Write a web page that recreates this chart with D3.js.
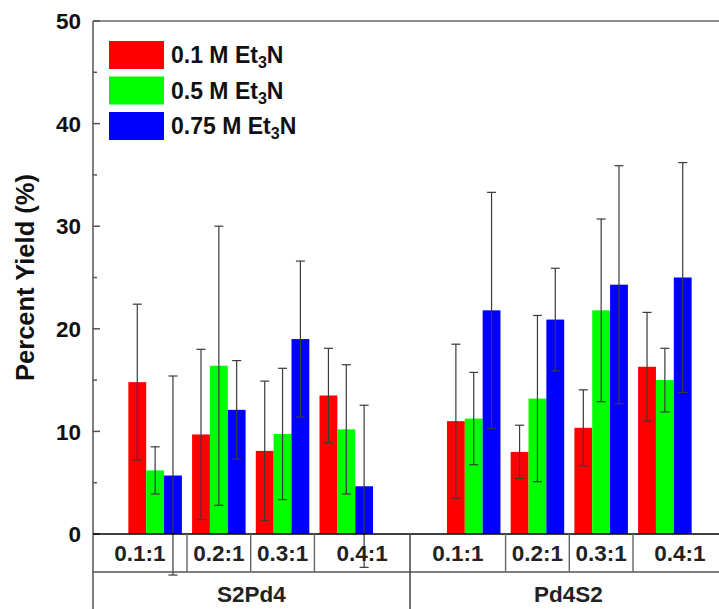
<!DOCTYPE html>
<html>
<head>
<meta charset="utf-8">
<script src="https://cdn.jsdelivr.net/npm/d3@7"></script>
<style>
  html, body { margin: 0; padding: 0; background: #fff; }
  svg { display: block; }
  text { font-family: "Liberation Sans", Arial, sans-serif; }
</style>
</head>
<body>
<svg id="chart" width="719" height="609"></svg>
<script>
// ---- data ----
const groups = ["S2Pd4", "Pd4S2"];
const ratios = ["0.1:1", "0.2:1", "0.3:1", "0.4:1"];
const seriesNames = ["0.1 M Et", "0.5 M Et", "0.75 M Et"];
const seriesColors = ["#ff0000", "#00ff00", "#0000ff"];
// order: S2Pd4 0.1..0.4, Pd4S2 0.1..0.4
const yield01 = [14.8, 9.7, 8.1, 13.5, 11.0, 8.0, 10.35, 16.3];
const yield05 = [6.2, 16.4, 9.75, 10.2, 11.25, 13.2, 21.8, 15.0];
const yield075 = [5.7, 12.1, 19.0, 4.65, 21.8, 20.9, 24.3, 25.0];
const err01 = [7.6, 8.3, 6.8, 4.6, 7.5, 2.6, 3.7, 5.3];
const err05 = [2.3, 13.6, 6.4, 6.3, 4.5, 8.1, 8.9, 3.1];
const err075 = [9.7, 4.8, 7.6, 7.9, 11.5, 5.0, 11.6, 11.2];
const yTicks = [0, 10, 20, 30, 40, 50];
const yMinorTicks = [5, 15, 25, 35, 45];

const values = [yield01, yield05, yield075];
const errors = [err01, err05, err075];

// ---- layout ----
const svg = d3.select("#chart");
const plotLeft = 93, plotRight = 727, plotTop = 21, zeroY = 534;
const row1 = 572, row2 = 609;

// slot index: group g, ratio c -> g*5 + c (slot 4 is the gap)
const x = d3.scaleLinear().domain([-0.975, 8.975]).range([plotLeft, plotRight]);
const y = d3.scaleLinear().domain([0, 50]).range([zeroY, plotTop]);
const slotW = x(1) - x(0);
const barW = slotW * 0.28;

const records = [];
groups.forEach((g, gi) => ratios.forEach((r, ci) => {
  const idx = gi * 4 + ci;
  const slot = gi * 5 + ci;
  values.forEach((vals, si) => {
    records.push({ slot, si, v: vals[idx], e: errors[si][idx] });
  });
}));
const barX = d => x(d.slot) + (d.si - 1.5) * barW;

// bars
svg.append("g").selectAll("rect").data(records).join("rect")
  .attr("x", barX)
  .attr("y", d => y(d.v))
  .attr("width", barW)
  .attr("height", d => y(0) - y(d.v))
  .attr("fill", d => seriesColors[d.si]);

// error bars
const eg = svg.append("g").attr("stroke", "#3a3a3a").attr("stroke-width", 1.2);
records.forEach(d => {
  const cx = barX(d) + barW / 2;
  eg.append("line").attr("x1", cx).attr("x2", cx)
    .attr("y1", y(d.v + d.e)).attr("y2", y(d.v - d.e));
  [d.v + d.e, d.v - d.e].forEach(val => {
    eg.append("line").attr("x1", cx - 4.5).attr("x2", cx + 4.5)
      .attr("y1", y(val)).attr("y2", y(val));
  });
});

// frame: top line, left axis
svg.append("line").attr("x1", plotLeft).attr("x2", plotRight).attr("y1", plotTop).attr("y2", plotTop)
  .attr("stroke", "#666").attr("stroke-width", 1.5);
svg.append("line").attr("x1", plotLeft).attr("x2", plotLeft).attr("y1", plotTop).attr("y2", row2)
  .attr("stroke", "#555").attr("stroke-width", 1.5);

// y axis ticks (inward) and labels
const yAxis = svg.append("g");
yTicks.forEach(t => {
  yAxis.append("line").attr("x1", plotLeft).attr("x2", plotLeft + 7)
    .attr("y1", y(t)).attr("y2", y(t)).attr("stroke", "#555").attr("stroke-width", 1.5);
  yAxis.append("text").attr("x", 81).attr("y", y(t)).attr("dy", "0.36em")
    .attr("text-anchor", "end").attr("font-size", 22.5).attr("font-weight", "bold")
    .attr("fill", "#111").text(t);
});
yMinorTicks.forEach(t => {
  yAxis.append("line").attr("x1", plotLeft).attr("x2", plotLeft + 4)
    .attr("y1", y(t)).attr("y2", y(t)).attr("stroke", "#555").attr("stroke-width", 1.5);
});

// y title
svg.append("text")
  .attr("transform", `translate(34,${(170 + 385) / 2}) rotate(-90)`)
  .attr("text-anchor", "middle").attr("font-size", 25.5).attr("font-weight", "bold")
  .attr("fill", "#111").text("Percent Yield (%)");

// zero line and table
svg.append("line").attr("x1", plotLeft).attr("x2", plotRight).attr("y1", zeroY).attr("y2", zeroY)
  .attr("stroke", "#000").attr("stroke-width", 1.6);
svg.append("line").attr("x1", plotLeft).attr("x2", plotRight).attr("y1", row1).attr("y2", row1)
  .attr("stroke", "#555").attr("stroke-width", 1.4);

// sub-separators (between ratio cells)
const subSeps = [0.5, 1.5, 2.5, 5.5, 6.5, 7.5];
subSeps.forEach(s => {
  svg.append("line").attr("x1", x(s)).attr("x2", x(s)).attr("y1", zeroY).attr("y2", row1)
    .attr("stroke", "#666").attr("stroke-width", 1.4);
});
// group separator
svg.append("line").attr("x1", x(4)).attr("x2", x(4)).attr("y1", zeroY).attr("y2", row2)
  .attr("stroke", "#444").attr("stroke-width", 1.5);

// ratio cell labels
const cellBounds = [
  [[-0.975, 0.5], [0.5, 1.5], [1.5, 2.5], [2.5, 4]],
  [[4, 5.5], [5.5, 6.5], [6.5, 7.5], [7.5, 8.975]]
];
groups.forEach((g, gi) => ratios.forEach((r, ci) => {
  const b = cellBounds[gi][ci];
  svg.append("text").attr("x", (x(b[0]) + x(b[1])) / 2).attr("y", 561)
    .attr("text-anchor", "middle").attr("font-size", 22.5).attr("font-weight", "bold")
    .attr("fill", "#222").text(r);
}));
// group labels
groups.forEach((g, gi) => {
  const b = gi === 0 ? [-0.975, 4] : [4, 8.975];
  svg.append("text").attr("x", (x(b[0]) + x(b[1])) / 2).attr("y", 602)
    .attr("text-anchor", "middle").attr("font-size", 22.5).attr("font-weight", "bold")
    .attr("fill", "#222").text(g);
});

// legend
const lg = svg.append("g");
seriesNames.forEach((name, i) => {
  const yy = 41 + i * 35.5;
  lg.append("rect").attr("x", 109).attr("y", yy).attr("width", 55).attr("height", 28)
    .attr("fill", seriesColors[i]);
  const t = lg.append("text").attr("x", 171).attr("y", yy + 22)
    .attr("font-size", 23).attr("font-weight", "bold").attr("fill", "#111");
  t.append("tspan").text(name);
  t.append("tspan").attr("font-size", 16).attr("dy", 5).text("3");
  t.append("tspan").attr("dy", -5).text("N");
});
</script>
</body>
</html>
